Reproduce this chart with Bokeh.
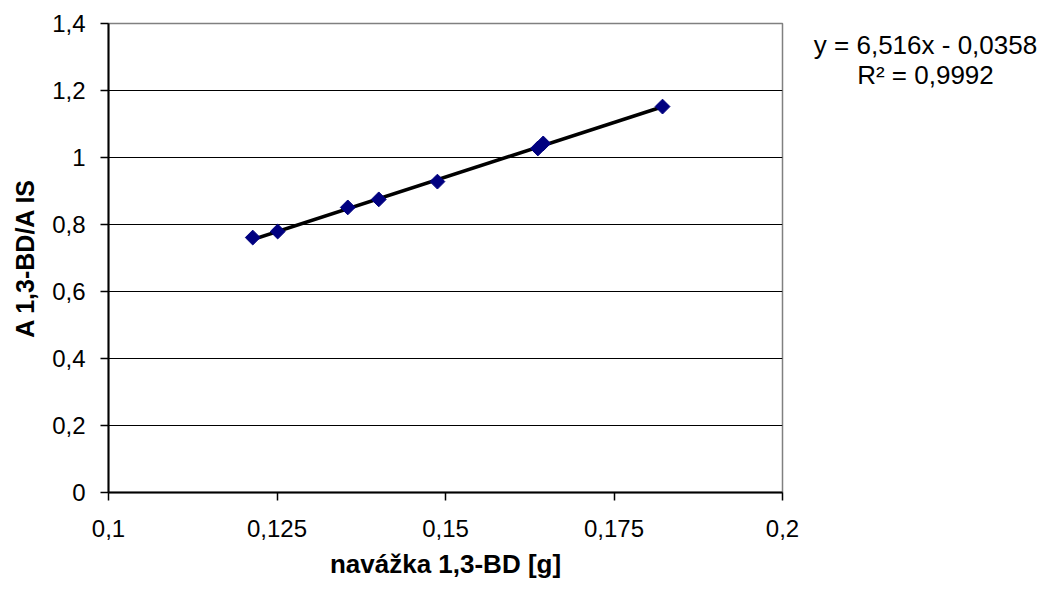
from bokeh.plotting import figure
from bokeh.models import Range1d, FixedTicker
from bokeh.layouts import row
from bokeh.core.properties import value
from bokeh.embed import file_html
from bokeh.resources import INLINE
import numpy as np

# data
mass_g = [0.1214, 0.1251, 0.1355, 0.1401, 0.1488, 0.1637, 0.1645, 0.1822]
ratio = [0.761, 0.779, 0.851, 0.875, 0.928, 1.027, 1.042, 1.152]
slope = 6.516
intercept = -0.0358
eq_lines = ["y = 6,516x - 0,0358", "R² = 0,9992"]

x_ticks = [0.1, 0.125, 0.15, 0.175, 0.2]
x_labels = ["0,1", "0,125", "0,15", "0,175", "0,2"]
y_ticks = [0, 0.2, 0.4, 0.6, 0.8, 1.0, 1.2, 1.4]
y_labels = ["0", "0,2", "0,4", "0,6", "0,8", "1", "1,2", "1,4"]

FONT = "Liberation Sans"
W, H = 1043, 590
MAIN_W = 812
TOP, BOTTOM = 23, 98

p = figure(width=MAIN_W, height=H, output_backend="svg", toolbar_location=None,
           x_range=Range1d(0.1, 0.2), y_range=Range1d(0, 1.4),
           min_border_left=108, min_border_top=TOP, min_border_right=30,
           min_border_bottom=BOTTOM)
p.outline_line_color = "#808080"
p.outline_line_width = 1.5
p.background_fill_color = "white"
p.border_fill_color = "white"

# grids
p.xgrid.grid_line_color = None
p.ygrid.grid_line_color = "black"
p.ygrid.grid_line_width = 1
p.ygrid.ticker = FixedTicker(ticks=y_ticks[1:-1])

# axes
p.xaxis.ticker = FixedTicker(ticks=x_ticks)
p.xaxis.major_label_overrides = {t: l for t, l in zip(x_ticks, x_labels)}
p.yaxis.ticker = FixedTicker(ticks=y_ticks)
p.yaxis.major_label_overrides = {t: l for t, l in zip(y_ticks, y_labels)}

for ax in (p.xaxis, p.yaxis):
    ax.axis_line_color = "black"
    ax.axis_line_width = 2
    ax.major_tick_line_color = "black"
    ax.major_tick_line_width = 1.5
    ax.major_tick_in = 0
    ax.major_tick_out = 8
    ax.minor_tick_line_color = None
    ax.major_label_text_font = FONT
    ax.major_label_text_font_size = "24px"
    ax.major_label_text_color = "black"
    ax.axis_label_text_font = FONT
    ax.axis_label_text_font_style = "bold"
    ax.axis_label_text_color = "black"

p.xaxis.axis_label_text_font_size = "26px"
p.yaxis.axis_label_text_font_size = "25px"
p.xaxis.major_label_standoff = 19
p.yaxis.major_label_standoff = 15
p.xaxis.axis_label = "navážka 1,3-BD [g]"
p.yaxis.axis_label = "A 1,3-BD/A IS"
p.xaxis.axis_label_standoff = 9
p.yaxis.axis_label_standoff = 10

# trendline from fit
xs = np.array([min(mass_g), max(mass_g)])
ys = slope * xs + intercept
p.line(xs, ys, line_color="black", line_width=3.5)

# data points (diamonds)
p.scatter(mass_g, ratio, marker="square", angle=np.pi / 4, size=10.5,
          fill_color="#000080", line_color="#000080")

# side panel with the regression equation; its frame is aligned with the
# main frame, so its y range is expressed in page pixels (downward)
q = figure(width=W - MAIN_W, height=H, output_backend="svg", toolbar_location=None,
           x_range=Range1d(0, W - MAIN_W), y_range=Range1d(H - BOTTOM, TOP),
           min_border=0, min_border_left=0, min_border_right=0,
           min_border_top=0, min_border_bottom=0)
q.axis.visible = False
q.grid.visible = False
q.outline_line_color = None
q.background_fill_color = "white"
q.border_fill_color = "white"
q.text(x=[113, 113], y=[44, 74], text=eq_lines, text_font=value(FONT),
       text_font_size="26px", text_align="center", text_baseline="middle",
       text_color="black")

layout = row(p, q, spacing=0)
open("out.html", "w").write(file_html(layout, INLINE))
